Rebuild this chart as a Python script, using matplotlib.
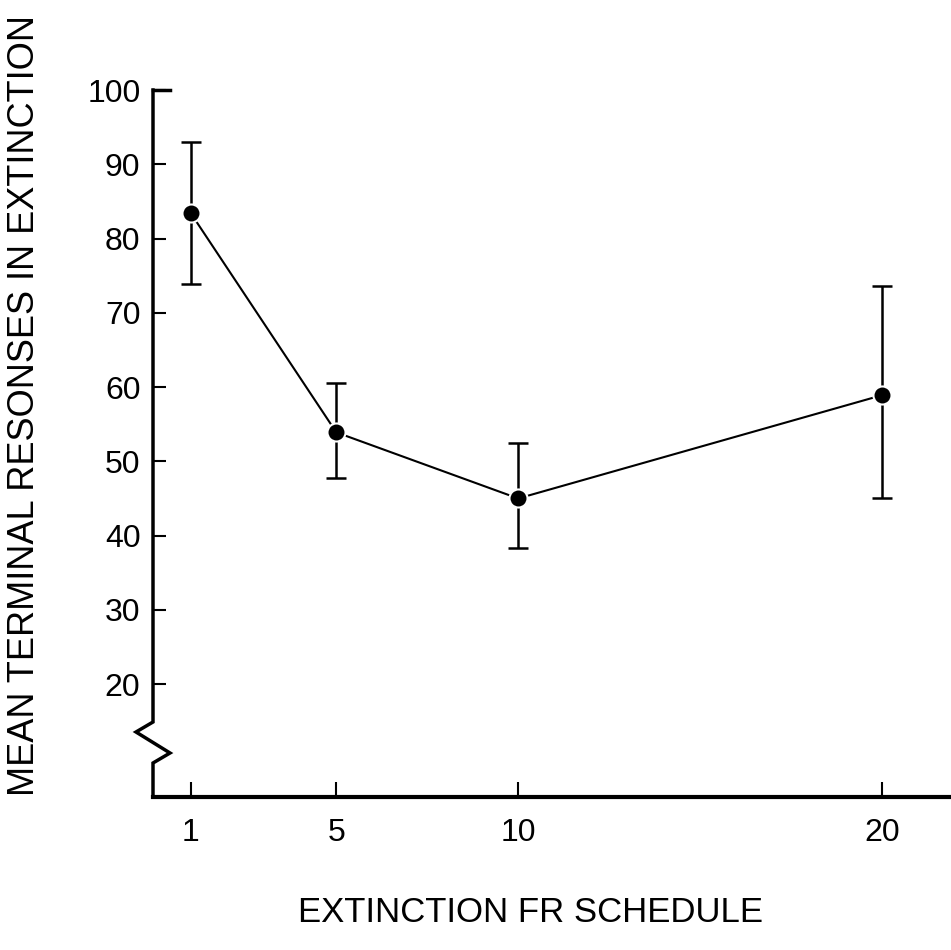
import matplotlib.pyplot as plt

schedule = [1, 5, 10, 20]
mean_resp = [83.4, 53.9, 45.0, 58.9]
err_low = [73.9, 47.7, 38.3, 45.0]
err_high = [93.0, 60.5, 52.5, 73.6]
y_ticks = [20, 30, 40, 50, 60, 70, 80, 90, 100]
x_ticks = [1, 5, 10, 20]

plt.rcParams['font.family'] = ['Liberation Sans', 'DejaVu Sans']

fig = plt.figure(figsize=(9.51, 9.5), dpi=100)
ax = fig.add_axes([153 / 951, 1 - 797 / 950, 1 - 153 / 951, (797 - 90) / 950])

yerr = [[m - lo for m, lo in zip(mean_resp, err_low)],
        [hi - m for m, hi in zip(mean_resp, err_high)]]
ax.errorbar(schedule, mean_resp, yerr=yerr, fmt='none', ecolor='black',
            elinewidth=1.8, capsize=7, capthick=1.8, zorder=2)
ax.plot(schedule, mean_resp, color='black', lw=1.5, zorder=3)
ax.plot(schedule, mean_resp, 'o', color='black', markersize=13,
        markeredgecolor='white', markeredgewidth=1.5, zorder=4)

ax.set_xlim(-0.04, 21.9)
ax.set_ylim(4.8, 100)
ax.set_xticks(x_ticks)
ax.set_yticks(y_ticks)
ax.tick_params(axis='both', direction='in', labelsize=23, width=1.5, colors='black')
ax.tick_params(axis='y', length=9, pad=9)
ax.tick_params(axis='x', length=11, pad=15)

for s in ['top', 'right', 'left']:
    ax.spines[s].set_visible(False)
ax.spines['bottom'].set_linewidth(3)

# left axis with break zigzag (pixel positions converted to axes fraction)
def fy(py):
    return (797 - py) / (797 - 90)

def fx(px):
    return (px - 153) / (951 - 153)

zx = [fx(153), fx(153), fx(136), fx(170), fx(153), fx(153)]
zy = [fy(90), fy(722), fy(732), fy(753), fy(763), fy(797)]
ax.plot(zx, zy, transform=ax.transAxes, color='black', lw=2.5,
        clip_on=False, solid_joinstyle='miter')
ax.plot([fx(153), fx(170)], [1, 1], transform=ax.transAxes, color='black',
        lw=2.5, clip_on=False)

fig.text(25 / 951, 1 - 405 / 950, 'MEAN TERMINAL RESONSES IN EXTINCTION',
         rotation=90, ha='center', va='center', fontsize=26)
fig.text(530 / 951, 1 - 912 / 950, 'EXTINCTION FR SCHEDULE',
         ha='center', va='center', fontsize=25)

fig.savefig('out.png', dpi=100)
